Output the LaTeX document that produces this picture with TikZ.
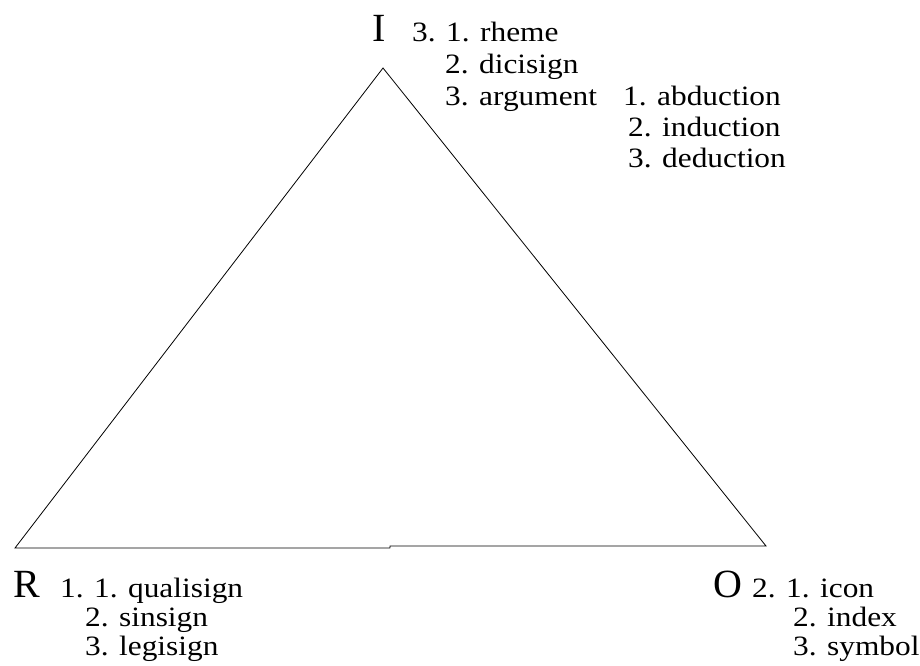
\documentclass[tikz,border=0pt]{standalone}
\usepackage{fontspec}
\setmainfont{Liberation Serif}
\newfontfamily\widefont[FakeStretch=1.12]{Liberation Serif}

\begin{document}
\begin{tikzpicture}[x=1pt,y=-1pt,
  lbl/.style={anchor=base west, inner sep=0pt, font=\widefont\fontsize{28}{30}\selectfont},
  corner/.style={anchor=base west, inner sep=0pt, font=\fontsize{40}{42}\selectfont}]
\useasboundingbox (0,0) rectangle (920,665);
% triangle
\coordinate (top) at (383,68);
\coordinate (left) at (15,548);
\coordinate (right) at (766,546);
\coordinate (stepl) at (390,548);
\coordinate (stepr) at (390,546);
\draw[line width=0.8pt] (stepl) -- (left) -- (top) -- (right) -- (stepr) -- (stepl);
% interpretant
\node[corner] (interp) at (372,41) {I};
\node[lbl] (rheme) at (412,41) {3. 1. rheme};
\node[lbl] (dicisign) at (445,73) {2. dicisign};
\node[lbl] (argument) at (445,105) {3. argument};
\node[lbl] (abduction) at (623,105) {1. abduction};
\node[lbl] (induction) at (628,136) {2. induction};
\node[lbl] (deduction) at (628,167) {3. deduction};
% representamen
\node[corner] (repr) at (13,597) {R};
\node[lbl] (qualisign) at (60,597) {1. 1. qualisign};
\node[lbl] (sinsign) at (85,626) {2. sinsign};
\node[lbl] (legisign) at (85,655) {3. legisign};
% object
\node[corner] (obj) at (713,597) {O};
\node[lbl] (icon) at (752,597) {2. 1. icon};
\node[lbl] (index) at (793,626) {2. index};
\node[lbl] (symbol) at (793,655) {3. symbol};
\end{tikzpicture}
\end{document}
